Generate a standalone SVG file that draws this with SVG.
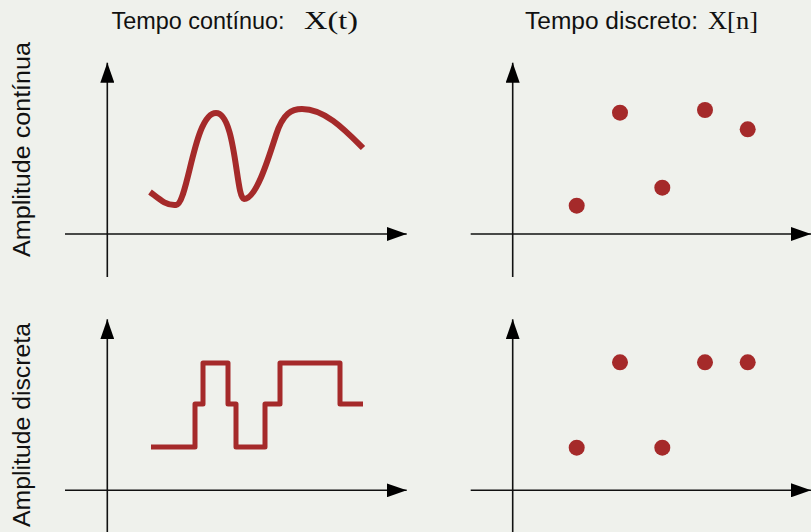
<svg xmlns="http://www.w3.org/2000/svg" width="811" height="532" viewBox="0 0 811 532">
<defs>
<style>
.bg{fill:#eff1ec}
.ax{stroke:#111;stroke-width:1.6;fill:none}
.sig{stroke:#a52a2a;fill:none;stroke-linejoin:round}
.dot{fill:#a52a2a}
.lbl{font-family:"Liberation Sans",Arial,sans-serif;font-size:23px;fill:#111}
.math{font-family:"Liberation Serif","Times New Roman",serif;font-size:25px;fill:#111}
</style>
<marker id="arr" markerUnits="userSpaceOnUse" markerWidth="20" markerHeight="14" refX="20" refY="7" orient="auto" viewBox="0 0 20 14">
<path d="M0,0 L20,7 L0,14 z" fill="#000"/>
</marker>
</defs>
<rect class="bg" x="0" y="0" width="811" height="532"/>

<g id="titles">
<text class="lbl" x="111.5" y="28.5" textLength="173" lengthAdjust="spacingAndGlyphs">Tempo contínuo:</text>
<text class="math" x="304" y="28.5" textLength="54" lengthAdjust="spacingAndGlyphs">X(t)</text>
<text class="lbl" x="525" y="28.5" textLength="173" lengthAdjust="spacingAndGlyphs">Tempo discreto:</text>
<text class="math" x="708" y="28.5" textLength="50" lengthAdjust="spacingAndGlyphs">X[n]</text>
</g>
<g id="row-labels">
<text class="lbl" transform="translate(29.5,257) rotate(-90)" x="0" y="0" textLength="215" lengthAdjust="spacingAndGlyphs">Amplitude contínua</text>
<text class="lbl" transform="translate(29.5,527) rotate(-90)" x="0" y="0" textLength="204" lengthAdjust="spacingAndGlyphs">Amplitude discreta</text>
</g>

<g id="connectors">
<line class="ax" x1="107.3" y1="277" x2="107.3" y2="62.7" marker-end="url(#arr)"/>
<line class="ax" x1="65" y1="234" x2="406.7" y2="234" marker-end="url(#arr)"/>
<line class="ax" x1="512.7" y1="277" x2="512.7" y2="62.7" marker-end="url(#arr)"/>
<line class="ax" x1="470.7" y1="234" x2="811" y2="234" marker-end="url(#arr)"/>
<line class="ax" x1="107.3" y1="532" x2="107.3" y2="319.3" marker-end="url(#arr)"/>
<line class="ax" x1="65" y1="490.3" x2="406.7" y2="490.3" marker-end="url(#arr)"/>
<line class="ax" x1="512.7" y1="532" x2="512.7" y2="319.3" marker-end="url(#arr)"/>
<line class="ax" x1="470.7" y1="490.3" x2="811" y2="490.3" marker-end="url(#arr)"/>
</g>

<g id="continuous-continuous">
<path class="sig" stroke-width="6" d="M150,192 C158,198 166,206 176,205 C188,204 194,113 216,113 C236,113 236,199 244,199 C256,199 268,160 276,135 C283,113 292,109 302,109 C325,109 345,130 363,148"/>
</g>
<g id="discrete-continuous">
<circle class="dot" cx="576.7" cy="205.7" r="8"/>
<circle class="dot" cx="620" cy="112.7" r="8"/>
<circle class="dot" cx="662.3" cy="187.7" r="8"/>
<circle class="dot" cx="705" cy="110" r="8"/>
<circle class="dot" cx="747.7" cy="129.3" r="8"/>
</g>
<g id="continuous-discrete">
<path class="sig" stroke-width="5" d="M151,447 H195 V404 H203 V363 H228 V404 H236 V447 H265 V404 H280 V363 H340 V404 H363"/>
</g>
<g id="discrete-discrete">
<circle class="dot" cx="576.7" cy="447.7" r="8"/>
<circle class="dot" cx="620" cy="362.3" r="8"/>
<circle class="dot" cx="662.3" cy="447.7" r="8"/>
<circle class="dot" cx="705" cy="362.3" r="8"/>
<circle class="dot" cx="747.7" cy="362.3" r="8"/>
</g>
</svg>
